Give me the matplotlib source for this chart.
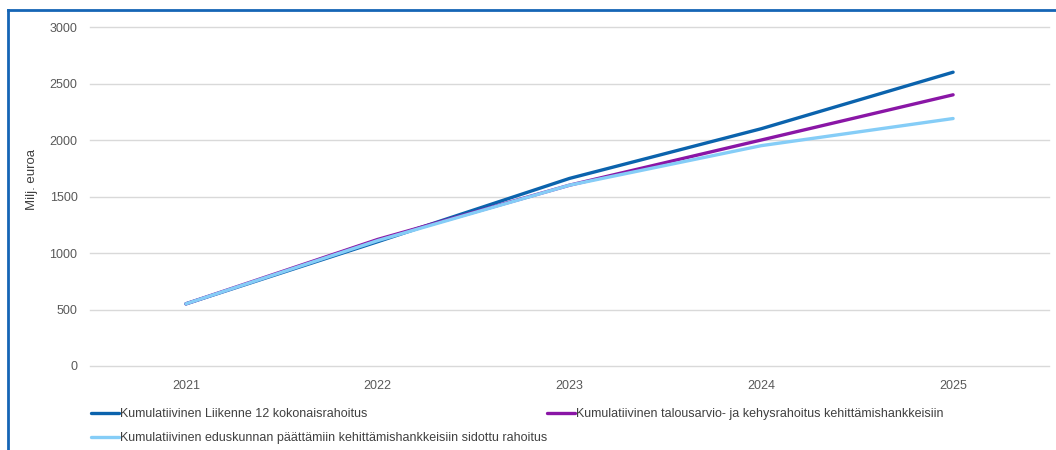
import matplotlib
matplotlib.use("Agg")
import matplotlib.pyplot as plt
from matplotlib.lines import Line2D

years = [2021, 2022, 2023, 2024, 2025]
liikenne12 = [550, 1100, 1660, 2100, 2600]
talousarvio = [550, 1120, 1600, 2000, 2400]
eduskunta = [550, 1110, 1600, 1950, 2190]

labels = [
    "Kumulatiivinen Liikenne 12 kokonaisrahoitus",
    "Kumulatiivinen talousarvio- ja kehysrahoitus kehittämishankkeisiin",
    "Kumulatiivinen eduskunnan päättämiin kehittämishankkeisiin sidottu rahoitus",
]
colors = ["#0b63ad", "#8a16a6", "#85cdf7"]

plt.rcParams["font.family"] = ["Liberation Sans", "DejaVu Sans"]

fig = plt.figure(figsize=(10.56, 4.5), dpi=100)
ax = fig.add_axes([90 / 1056, 1 - 366 / 450, (1049 - 90) / 1056, (366 - 27) / 450])

series = [liikenne12, talousarvio, eduskunta]
handles = []
for vals, lab, col in zip(series, labels, colors):
    h, = ax.plot(years, vals, color=col, lw=2.4, label=lab, solid_capstyle="round")
    handles.append(h)

ax.set_xlim(2020.5, 2025.5)
ax.set_ylim(0, 3000)
ax.set_yticks(range(0, 3001, 500))
ax.set_xticks(years)
ax.grid(axis="y", color="#d9d9d9", lw=1)
for gl in ax.get_ygridlines():
    gl.set_clip_on(False)
ax.set_axisbelow(True)
for s in ax.spines.values():
    s.set_visible(False)
ax.tick_params(length=0, colors="#595959", labelsize=9)
ax.tick_params(axis="y", pad=9)
ax.tick_params(axis="x", pad=10)
ax.set_ylabel("Milj. euroa", color="#404040", fontsize=9.5)
ax.yaxis.set_label_coords(-0.054, 0.55)

# legend: column-major order -> col1: L12, eduskunta; col2: talousarvio
order = [0, 2, 1]
fig.legend([handles[i] for i in order], [labels[i] for i in order],
           loc="upper left", bbox_to_anchor=(80 / 1056, 1 - 397 / 450),
           ncol=2, frameon=False, fontsize=9, handlelength=2.2,
           handletextpad=0.1, columnspacing=0.0, labelspacing=0.95,
           labelcolor="#404040")

# blue frame on top and left
fig.add_artist(Line2D([7.5 / 1056, 1], [1 - 9.5 / 450, 1 - 9.5 / 450],
                      transform=fig.transFigure, color="#1565b5", lw=2))
fig.add_artist(Line2D([7.5 / 1056, 7.5 / 1056], [0, 1 - 9.5 / 450],
                      transform=fig.transFigure, color="#1565b5", lw=2))

fig.savefig("out.png", dpi=100)
